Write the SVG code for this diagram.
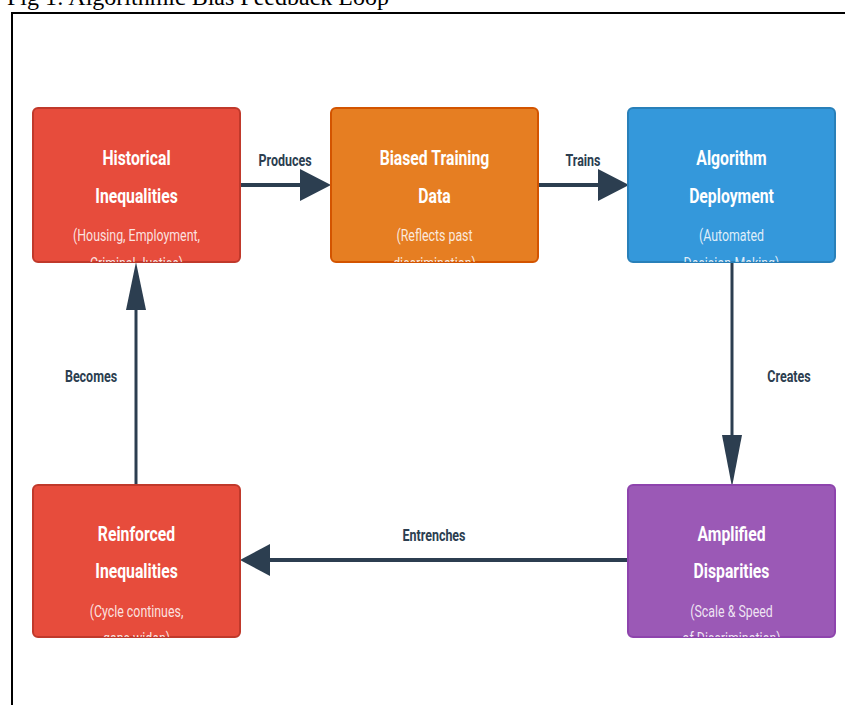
<svg xmlns="http://www.w3.org/2000/svg" width="845" height="705" viewBox="0 0 845 705">
  <style>
    .fig { font-family: "Liberation Serif", "Times New Roman", serif; font-size: 24px; fill: #000; }
    .frame { fill: none; stroke: #000; stroke-width: 2; }
    .box { stroke-width: 2; }
    .title { font-family: Roboto, "Liberation Sans", sans-serif; font-weight: bold; font-size: 21px; fill: #fff; text-anchor: middle; }
    .sub { font-family: Roboto, "Liberation Sans", sans-serif; font-size: 16.5px; fill: #fff; fill-opacity: 0.85; text-anchor: middle; }
    .lbl { font-family: Roboto, "Liberation Sans", sans-serif; font-weight: bold; font-size: 16px; fill: #2C3E50; text-anchor: middle; }
    .line { stroke: #2C3E50; stroke-width: 4; fill: none; }
    .head { fill: #2C3E50; }
  </style>
  <defs>
    <clipPath id="c1"><rect x="33" y="108" width="207" height="154" rx="5"/></clipPath>
    <clipPath id="c2"><rect x="331" y="108" width="207" height="154" rx="5"/></clipPath>
    <clipPath id="c3"><rect x="628" y="108" width="207" height="154" rx="5"/></clipPath>
    <clipPath id="c4"><rect x="33" y="485" width="207" height="152" rx="5"/></clipPath>
    <clipPath id="c5"><rect x="628" y="485" width="207" height="152" rx="5"/></clipPath>
  </defs>
  <rect width="845" height="705" fill="#fff"/>
  <text class="fig" x="7" y="5">Fig 1: Algorithmic Bias Feedback Loop</text>
  <path class="frame" d="M12,720 V13 H860"/>

  <g id="connectors">
    <line class="line" x1="240" y1="185" x2="302" y2="185"/>
    <polygon class="head" points="300,169 331,185 300,201"/>
    <text class="lbl" transform="translate(285,0) scale(0.78,1)" x="0" y="166">Produces</text>

    <line class="line" x1="538" y1="185" x2="600" y2="185"/>
    <polygon class="head" points="598,169 629,185 598,201"/>
    <text class="lbl" transform="translate(583,0) scale(0.78,1)" x="0" y="166">Trains</text>

    <line class="line" x1="732" y1="262" x2="732" y2="437" style="stroke-width:3"/>
    <polygon class="head" points="722,435 742,435 732,487"/>
    <text class="lbl" transform="translate(789,0) scale(0.78,1)" x="0" y="382">Creates</text>

    <line class="line" x1="628" y1="560" x2="268" y2="560"/>
    <polygon class="head" points="270,544 240,560 270,576"/>
    <text class="lbl" transform="translate(434,0) scale(0.78,1)" x="0" y="541">Entrenches</text>

    <line class="line" x1="136" y1="485" x2="136" y2="308" style="stroke-width:3"/>
    <polygon class="head" points="126,310 146,310 136,262"/>
    <text class="lbl" transform="translate(91,0) scale(0.78,1)" x="0" y="382">Becomes</text>
  </g>

  <g id="historical">
    <rect class="box" x="33" y="108" width="207" height="154" rx="5" fill="#E74C3C" stroke="#C0392B"/>
    <g clip-path="url(#c1)">
      <g transform="translate(136.5,0) scale(0.75,1)">
        <text class="title" x="0" y="165.5">Historical</text>
        <text class="title" x="0" y="203">Inequalities</text>
        <text class="sub" x="0" y="241.5">(Housing, Employment,</text>
        <text class="sub" x="0" y="269">Criminal Justice)</text>
      </g>
    </g>
  </g>

  <g id="biased">
    <rect class="box" x="331" y="108" width="207" height="154" rx="5" fill="#E67E22" stroke="#D35400"/>
    <g clip-path="url(#c2)">
      <g transform="translate(434.5,0) scale(0.75,1)">
        <text class="title" x="0" y="165.5">Biased Training</text>
        <text class="title" x="0" y="203">Data</text>
        <text class="sub" x="0" y="241.5">(Reflects past</text>
        <text class="sub" x="0" y="269">discrimination)</text>
      </g>
    </g>
  </g>

  <g id="deployment">
    <rect class="box" x="628" y="108" width="207" height="154" rx="5" fill="#3498DB" stroke="#2980B9"/>
    <g clip-path="url(#c3)">
      <g transform="translate(731.5,0) scale(0.75,1)">
        <text class="title" x="0" y="165.5">Algorithm</text>
        <text class="title" x="0" y="203">Deployment</text>
        <text class="sub" x="0" y="241.5">(Automated</text>
        <text class="sub" x="0" y="269">Decision-Making)</text>
      </g>
    </g>
  </g>

  <g id="reinforced">
    <rect class="box" x="33" y="485" width="207" height="152" rx="5" fill="#E74C3C" stroke="#C0392B"/>
    <g clip-path="url(#c4)">
      <g transform="translate(136.5,0) scale(0.75,1)">
        <text class="title" x="0" y="541">Reinforced</text>
        <text class="title" x="0" y="578.5">Inequalities</text>
        <text class="sub" x="0" y="617">(Cycle continues,</text>
        <text class="sub" x="0" y="644.5">gaps widen)</text>
      </g>
    </g>
  </g>

  <g id="amplified">
    <rect class="box" x="628" y="485" width="207" height="152" rx="5" fill="#9B59B6" stroke="#8E44AD"/>
    <g clip-path="url(#c5)">
      <g transform="translate(731.5,0) scale(0.75,1)">
        <text class="title" x="0" y="541">Amplified</text>
        <text class="title" x="0" y="578.5">Disparities</text>
        <text class="sub" x="0" y="617">(Scale &amp; Speed</text>
        <text class="sub" x="0" y="644.5">of Discrimination)</text>
      </g>
    </g>
  </g>
</svg>
